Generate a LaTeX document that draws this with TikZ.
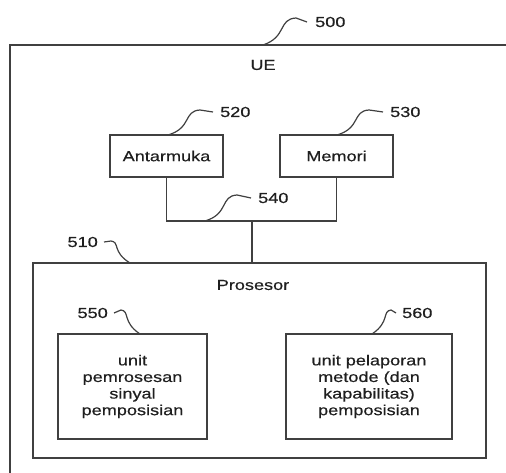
\documentclass[tikz,border=0pt]{standalone}
\usepackage{fontspec}
\newfontfamily\labfont[FakeStretch=1.25,FakeBold=0.4]{Liberation Sans}
\begin{document}
\begin{tikzpicture}[x=1pt,y=-1pt,
  ln/.style={draw=black!75,line width=1.5pt},
  box/.style={ln,rectangle,inner sep=0pt,align=center,text=black!88},
  lbl/.style={text=black!88,inner sep=0pt},
  every node/.style={font=\labfont\fontsize{14.5}{16.6}\selectfont},
  lead/.style={draw=black!75,line width=1.2pt}]
\useasboundingbox (0,0) rectangle (506,473);
\fill[white] (0,0) rectangle (506,473);
\begin{scope}
\clip (0,0) rectangle (506,473);
\draw[ln] (10,520) -- (10,45) -- (530,45);
\end{scope}
\node[lbl] (ue) at (263,65) {UE};
\node[box,minimum width=113,minimum height=42] (ant) at (166.5,156) {Antarmuka};
\node[box,minimum width=113,minimum height=42] (mem) at (336.5,156) {Memori};
\node[box,minimum width=453,minimum height=195] (proc) at (259.5,360.5) {};
\node[lbl] (proclbl) at (253,285) {Prosesor};
\node[box,minimum width=149,minimum height=105] (sig) at (132.5,386.5) {unit\\pemrosesan\\sinyal\\pemposisian};
\node[box,minimum width=166,minimum height=105] (rep) at (369,386.5) {unit pelaporan\\metode (dan\\kapabilitas)\\pemposisian};
\coordinate (bus) at (252,221);
\draw[ln] (ant.south) |- (bus) -| (mem.south);
\draw[ln] (bus) -- (bus |- proc.north);
% reference labels
\node[lbl,anchor=west] (n500) at (315,22) {500};
\node[lbl,anchor=west] (n520) at (220,112) {520};
\node[lbl,anchor=west] (n530) at (390,112) {530};
\node[lbl,anchor=west] (n540) at (258,198) {540};
\node[lbl,anchor=east] (n510) at (98,242) {510};
\node[lbl,anchor=east] (n550) at (108,313) {550};
\node[lbl,anchor=west] (n560) at (402,313) {560};
\coordinate (e500) at (263,45);
\coordinate (e520) at (168,135);
\coordinate (e530) at (337,135);
\coordinate (e540) at (205,221);
\coordinate (e510) at (130,263);
\coordinate (e550) at (140,334);
\coordinate (e560) at (372,334);
\draw[lead] (e500) .. controls (287,37) and (278,19) .. (296,18) -- ([xshift=-8]n500.west);
\draw[lead] (e520) .. controls (192,128) and (183,111) .. (200,110) -- ([xshift=-7]n520.west);
\draw[lead] (e530) .. controls (361,128) and (352,111) .. (369,110) -- ([xshift=-7]n530.west);
\draw[lead] (e540) .. controls (229,214) and (220,196) .. (237,195) -- ([xshift=-7]n540.west);
\draw[lead] ([xshift=6]n510.east) -- (111,241) .. controls (120,242) and (112,252) .. (e510);
\draw[lead] ([xshift=6]n550.east) -- (121,310) .. controls (130,311) and (122,322) .. (e550);
\draw[lead] ([xshift=-6]n560.west) -- (391,310) .. controls (382,311) and (390,322) .. (e560);
\end{tikzpicture}
\end{document}
